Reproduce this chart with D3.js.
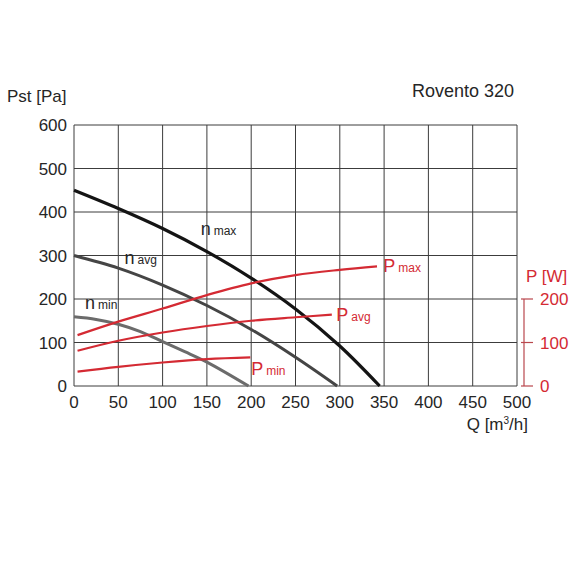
<!DOCTYPE html>
<html>
<head>
<meta charset="utf-8">
<script src="https://cdn.jsdelivr.net/npm/d3@7"></script>
<style>
  html, body { margin: 0; padding: 0; background: #fff; }
  svg { display: block; font-family: "Liberation Sans", Arial, Helvetica, sans-serif; }
</style>
</head>
<body>
<div id="chart"></div>
<script>
// Rovento 320 — fan curves (Pst) with power curves (P) on a right axis
const X_TICKS = [0, 50, 100, 150, 200, 250, 300, 350, 400, 450, 500];
const Y_TICKS = [0, 100, 200, 300, 400, 500, 600];
const P_TICKS = [0, 100, 200];

// pressure curves, Q [m3/h] vs Pst [Pa]
const N_MAX_Q = [0, 50, 100, 150, 200, 250, 300, 345];
const N_MAX_P = [450, 408, 362, 309, 248, 177, 92, 0];
const N_AVG_Q = [0, 50, 100, 150, 200, 250, 297];
const N_AVG_P = [300, 271, 232, 185, 130, 66, 0];
const N_MIN_Q = [0, 25, 50, 75, 100, 125, 150, 197];
const N_MIN_P = [159, 153, 142, 125, 102, 79, 55, 0];

// power curves, Q [m3/h] vs P [W]
const P_MAX_Q = [4, 50, 100, 150, 200, 250, 300, 342];
const P_MAX_W = [117, 148, 178, 209, 236, 255, 267, 275];
const P_AVG_Q = [4, 50, 100, 150, 200, 250, 291];
const P_AVG_W = [81, 104, 123, 138, 150, 158, 164];
const P_MIN_Q = [4, 50, 100, 150, 199];
const P_MIN_W = [33, 44, 54, 62, 66];

const W = 576, H = 576;
const RED = "#d42a33", RED_AX = "#b9474d", GRID = "#3c3c3c", INK = "#262626";

const x = d3.scaleLinear().domain([0, 500]).range([74, 517]);
const y = d3.scaleLinear().domain([0, 600]).range([386, 125]);
const yP = d3.scaleLinear().domain([0, 200]).range([y(0), y(200)]);

const svg = d3.select("#chart").append("svg")
  .attr("width", W).attr("height", H).attr("viewBox", `0 0 ${W} ${H}`);

// grid + frame
const g = svg.append("g");
X_TICKS.forEach(v => g.append("line")
  .attr("x1", x(v)).attr("x2", x(v)).attr("y1", y(600)).attr("y2", y(0))
  .attr("stroke", GRID).attr("stroke-width", 1));
Y_TICKS.forEach(v => g.append("line")
  .attr("x1", x(0)).attr("x2", x(500)).attr("y1", y(v)).attr("y2", y(v))
  .attr("stroke", GRID).attr("stroke-width", 1));

// tick labels
const tick = `font-size:17px;fill:${INK}`;
Y_TICKS.forEach(v => svg.append("text")
  .attr("x", x(0) - 7).attr("y", y(v)).attr("dy", "0.38em")
  .attr("text-anchor", "end").attr("style", tick).text(v));
X_TICKS.forEach(v => svg.append("text")
  .attr("x", x(v)).attr("y", y(0) + 22).attr("text-anchor", "middle")
  .attr("style", tick).text(v));

svg.append("text").attr("x", 7).attr("y", 102).attr("style", `font-size:17px;fill:${INK}`).text("Pst [Pa]");
svg.append("text").attr("x", 514).attr("y", 97).attr("text-anchor", "end")
  .attr("style", `font-size:18px;fill:${INK}`).text("Rovento 320");
const qLab = svg.append("text").attr("x", 528).attr("y", 430).attr("text-anchor", "end")
  .attr("style", `font-size:17px;fill:${INK}`);
qLab.append("tspan").text("Q [m");
qLab.append("tspan").attr("dy", -6).attr("style", "font-size:10px").text("3");
qLab.append("tspan").attr("dy", 6).text("/h]");

// right axis P [W]
const ax = 524;
svg.append("line").attr("x1", ax).attr("x2", ax).attr("y1", yP(200)).attr("y2", yP(0))
  .attr("stroke", RED_AX).attr("stroke-width", 1.2);
P_TICKS.forEach(v => {
  svg.append("line").attr("x1", ax - 3).attr("x2", ax + 9).attr("y1", yP(v)).attr("y2", yP(v))
    .attr("stroke", RED_AX).attr("stroke-width", 1.2);
  svg.append("text").attr("x", 540).attr("y", yP(v)).attr("dy", "0.38em")
    .attr("style", `font-size:17px;fill:${RED}`).text(v);
});
svg.append("text").attr("x", 526).attr("y", 282).attr("style", `font-size:17px;fill:${RED}`).text("P [W]");

// curves
const line = (ys) => d3.line().x(d => x(d[0])).y(d => ys(d[1])).curve(d3.curveCatmullRom.alpha(0.5));
const curves = [
  { q: N_MIN_Q, v: N_MIN_P, s: y, col: "#6b6b6b", w: 3 },
  { q: N_AVG_Q, v: N_AVG_P, s: y, col: "#454545", w: 3 },
  { q: N_MAX_Q, v: N_MAX_P, s: y, col: "#141414", w: 3.2 },
  { q: P_MIN_Q, v: P_MIN_W, s: yP, col: RED, w: 2.2 },
  { q: P_AVG_Q, v: P_AVG_W, s: yP, col: RED, w: 2.2 },
  { q: P_MAX_Q, v: P_MAX_W, s: yP, col: RED, w: 2.2 },
];
curves.forEach(c => {
  svg.append("path").attr("d", line(c.s)(c.q.map((q, j) => [q, c.v[j]])))
    .attr("fill", "none").attr("stroke", c.col).attr("stroke-width", c.w);
});

// curve labels (data coordinates)
const LABELS = [
  { main: "n", sub: "max", q: 143, v: 346, s: y, col: INK },
  { main: "n", sub: "avg", q: 57, v: 280, s: y, col: INK },
  { main: "n", sub: "min", q: 12.5, v: 176, s: y, col: INK },
  { main: "P", sub: "max", q: 349, v: 262, s: yP, col: RED },
  { main: "P", sub: "avg", q: 296, v: 150, s: yP, col: RED },
  { main: "P", sub: "min", q: 200, v: 25, s: yP, col: RED },
];
LABELS.forEach(l => {
  const t = svg.append("text").attr("x", x(l.q)).attr("y", l.s(l.v))
    .attr("style", `font-size:18px;fill:${l.col}`);
  t.append("tspan").text(l.main);
  t.append("tspan").attr("dx", 3).attr("style", "font-size:12px").text(l.sub);
});
</script>
</body>
</html>
